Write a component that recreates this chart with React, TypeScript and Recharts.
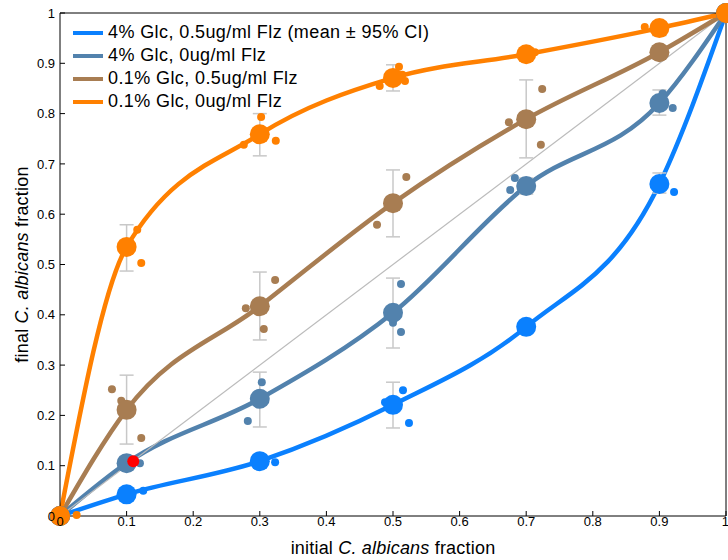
import React from "react";
import {
  ComposedChart,
  Line,
  Scatter,
  XAxis,
  YAxis,
  ErrorBar,
  ReferenceLine,
  Legend,
} from "recharts";

// initial fraction of C. albicans seeded in each co-culture
const initialFraction = [0, 0.1, 0.3, 0.5, 0.7, 0.9, 1];

// mean final fraction and 95% CI bounds per condition
const highGlcFlzMean = [0, 0.043, 0.109, 0.221, 0.376, 0.66, 1];
const highGlcFlzLow = [0, 0.036, 0.1, 0.175, 0.366, 0.642, 1];
const highGlcFlzHigh = [0, 0.05, 0.118, 0.266, 0.386, 0.682, 1];

const highGlcMean = [0, 0.105, 0.233, 0.404, 0.656, 0.821, 1];
const highGlcLow = [0, 0.095, 0.177, 0.334, 0.64, 0.797, 1];
const highGlcHigh = [0, 0.115, 0.286, 0.473, 0.672, 0.847, 1];

const lowGlcFlzMean = [0, 0.211, 0.417, 0.622, 0.789, 0.922, 1];
const lowGlcFlzLow = [0, 0.143, 0.35, 0.555, 0.712, 0.91, 1];
const lowGlcFlzHigh = [0, 0.28, 0.485, 0.688, 0.867, 0.935, 1];

const lowGlcMean = [0, 0.535, 0.759, 0.871, 0.918, 0.97, 1];
const lowGlcLow = [0, 0.487, 0.716, 0.845, 0.905, 0.955, 1];
const lowGlcHigh = [0, 0.579, 0.8, 0.897, 0.93, 0.98, 1];

// individual replicates (x jittered around the seeded fraction)
const highGlcFlzRepX = [0.125, 0.323, 0.515, 0.488, 0.524, 0.922];
const highGlcFlzRepY = [0.05, 0.107, 0.25, 0.226, 0.185, 0.644];

const highGlcRepX = [0.12, 0.282, 0.303, 0.512, 0.5, 0.512, 0.683, 0.676, 0.92, 0.905];
const highGlcRepY = [0.105, 0.189, 0.266, 0.461, 0.384, 0.366, 0.672, 0.648, 0.811, 0.84];

const lowGlcFlzRepX = [0.078, 0.092, 0.122, 0.279, 0.323, 0.306, 0.476, 0.52, 0.674, 0.724, 0.722, 0.893];
const lowGlcFlzRepY = [0.252, 0.229, 0.155, 0.413, 0.469, 0.372, 0.579, 0.674, 0.783, 0.849, 0.738, 0.926];

const lowGlcRepX = [0.025, 0.116, 0.122, 0.276, 0.302, 0.324, 0.48, 0.509, 0.518, 0.514, 0.713, 0.878];
const lowGlcRepY = [0.002, 0.569, 0.503, 0.738, 0.793, 0.746, 0.855, 0.893, 0.865, 0.877, 0.922, 0.972];

// highlighted replicate
const flaggedX = [0.11];
const flaggedY = [0.109];

const xTicks = [0, 0.1, 0.2, 0.3, 0.4, 0.5, 0.6, 0.7, 0.8, 0.9, 1];
const yTicks = [0, 0.1, 0.2, 0.3, 0.4, 0.5, 0.6, 0.7, 0.8, 0.9, 1];

const FONT = "'Liberation Sans', Arial, Helvetica, sans-serif";

type Condition = {
  key: string;
  label: string;
  color: string;
  mean: number[];
  low: number[];
  high: number[];
  repX: number[];
  repY: number[];
};

const conditions: Condition[] = [
  {
    key: "hiFlz",
    label: "4% Glc, 0.5ug/ml Flz (mean \u00b1 95% CI)",
    color: "#0a80fe",
    mean: highGlcFlzMean,
    low: highGlcFlzLow,
    high: highGlcFlzHigh,
    repX: highGlcFlzRepX,
    repY: highGlcFlzRepY,
  },
  {
    key: "hi",
    label: "4% Glc, 0ug/ml Flz",
    color: "#5282ad",
    mean: highGlcMean,
    low: highGlcLow,
    high: highGlcHigh,
    repX: highGlcRepX,
    repY: highGlcRepY,
  },
  {
    key: "loFlz",
    label: "0.1% Glc, 0.5ug/ml Flz",
    color: "#a87d52",
    mean: lowGlcFlzMean,
    low: lowGlcFlzLow,
    high: lowGlcFlzHigh,
    repX: lowGlcFlzRepX,
    repY: lowGlcFlzRepY,
  },
  {
    key: "lo",
    label: "0.1% Glc, 0ug/ml Flz",
    color: "#ff8000",
    mean: lowGlcMean,
    low: lowGlcLow,
    high: lowGlcHigh,
    repX: lowGlcRepX,
    repY: lowGlcRepY,
  },
];

const meanRows = (c: Condition) =>
  initialFraction.map((x, i) => ({
    x,
    y: c.mean[i],
    err: [c.mean[i] - c.low[i], c.high[i] - c.mean[i]],
  }));

const repRows = (xs: number[], ys: number[]) => xs.map((x, i) => ({ x, y: ys[i] }));

const dot = (r: number, color: string) => (p: any) =>
  <circle cx={p.cx} cy={p.cy} r={r} fill={color} stroke="none" />;

const fmt = (v: number) => String(Number(v.toFixed(1)));

function LegendBox() {
  return (
    <div style={{ fontFamily: FONT, fontSize: 18, letterSpacing: 0.4, color: "#000" }}>
      {conditions.map((c) => (
        <div key={c.key} style={{ display: "flex", alignItems: "center", height: 23 }}>
          <span
            style={{ display: "inline-block", width: 30, height: 4, background: c.color, marginRight: 5 }}
          />
          <span style={{ whiteSpace: "nowrap" }}>{c.label}</span>
        </div>
      ))}
    </div>
  );
}

// bottom tick labels; the last one is pulled left so it stays on the page
function XTick(props: any) {
  const { x, y, payload } = props;
  const last = payload.value === 1;
  return (
    <text
      x={last ? x + 3 : x}
      y={y}
      dy={10}
      textAnchor={last ? "end" : "middle"}
      fontFamily={FONT}
      fontSize={13}
      fill="#000"
    >
      {fmt(payload.value)}
    </text>
  );
}

function XTitle(props: any) {
  const { viewBox } = props;
  const cx = viewBox.x + viewBox.width / 2;
  return (
    <text
      x={cx}
      y={viewBox.y + 38}
      textAnchor="middle"
      fontFamily={FONT}
      fontSize={18}
      letterSpacing={0.2}
      fill="#000"
    >
      <tspan>initial </tspan>
      <tspan fontStyle="italic">C. albicans</tspan>
      <tspan> fraction</tspan>
    </text>
  );
}

function YTitle(props: any) {
  const { viewBox } = props;
  const cy = viewBox.y + viewBox.height / 2;
  const x = 28;
  return (
    <text
      x={x}
      y={cy}
      textAnchor="middle"
      fontFamily={FONT}
      fontSize={18}
      letterSpacing={0.2}
      fill="#000"
      transform={`rotate(-90 ${x} ${cy})`}
    >
      <tspan>final </tspan>
      <tspan fontStyle="italic">C. albicans</tspan>
      <tspan> fraction</tspan>
    </text>
  );
}

const tickStyle = { fill: "#000", fontSize: 13, fontFamily: FONT };

function renderCondition(c: Condition) {
  return [
    <Line
      key={`${c.key}-line`}
      data={meanRows(c)}
      dataKey="y"
      type="monotoneX"
      stroke={c.color}
      strokeWidth={4.5}
      dot={false}
      activeDot={false}
      legendType="none"
      isAnimationActive={false}
    />,
    <Scatter
      key={`${c.key}-reps`}
      data={repRows(c.repX, c.repY)}
      dataKey="y"
      shape={dot(4, c.color)}
      legendType="none"
      isAnimationActive={false}
    />,
    <Scatter
      key={`${c.key}-mean`}
      data={meanRows(c)}
      dataKey="y"
      shape={dot(10, c.color)}
      legendType="none"
      isAnimationActive={false}
    >
      <ErrorBar dataKey="err" direction="y" stroke="#c8c8c8" strokeWidth={1.5} width={7} />
    </Scatter>,
  ];
}

export default function App() {
  return (
    <div style={{ position: "absolute", left: 0, top: 0, width: 728, height: 560, background: "#fff" }}>
      <ComposedChart width={728} height={560} margin={{ top: 12, right: 1, bottom: 43, left: 59 }}>
        <XAxis
          dataKey="x"
          type="number"
          domain={[0, 1]}
          ticks={xTicks}
          height={1}
          tickSize={-5}
          tickMargin={5}
          tick={<XTick />}
          stroke="#000"
          interval={0}
          label={{ content: <XTitle /> }}
        />
        <XAxis
          xAxisId="top"
          orientation="top"
          dataKey="x"
          type="number"
          domain={[0, 1]}
          ticks={xTicks}
          height={1}
          tickSize={-5}
          tick={false}
          stroke="#000"
        />
        <YAxis
          type="number"
          domain={[0, 1]}
          ticks={yTicks}
          tickFormatter={fmt}
          width={1}
          tickSize={-5}
          tickMargin={10}
          tick={tickStyle}
          stroke="#000"
          interval={0}
          label={{ content: <YTitle /> }}
        />
        <YAxis
          yAxisId="right"
          orientation="right"
          type="number"
          domain={[0, 1]}
          ticks={yTicks}
          width={1}
          tickSize={-5}
          tick={false}
          stroke="#000"
        />
        <Legend
          layout="vertical"
          align="center"
          verticalAlign="middle"
          wrapperStyle={{ left: 73, top: 21, width: "auto" }}
          content={<LegendBox />}
        />
        {renderCondition(conditions[0])}
        {renderCondition(conditions[1])}
        <ReferenceLine
          segment={[
            { x: 0, y: 0 },
            { x: 1, y: 1 },
          ]}
          stroke="#bbbbbb"
          strokeWidth={1.2}
        />
        {renderCondition(conditions[2])}
        {renderCondition(conditions[3])}
        <Scatter
          data={repRows(flaggedX, flaggedY)}
          dataKey="y"
          shape={dot(6, "#ff0000")}
          legendType="none"
          isAnimationActive={false}
        />
      </ComposedChart>
    </div>
  );
}
